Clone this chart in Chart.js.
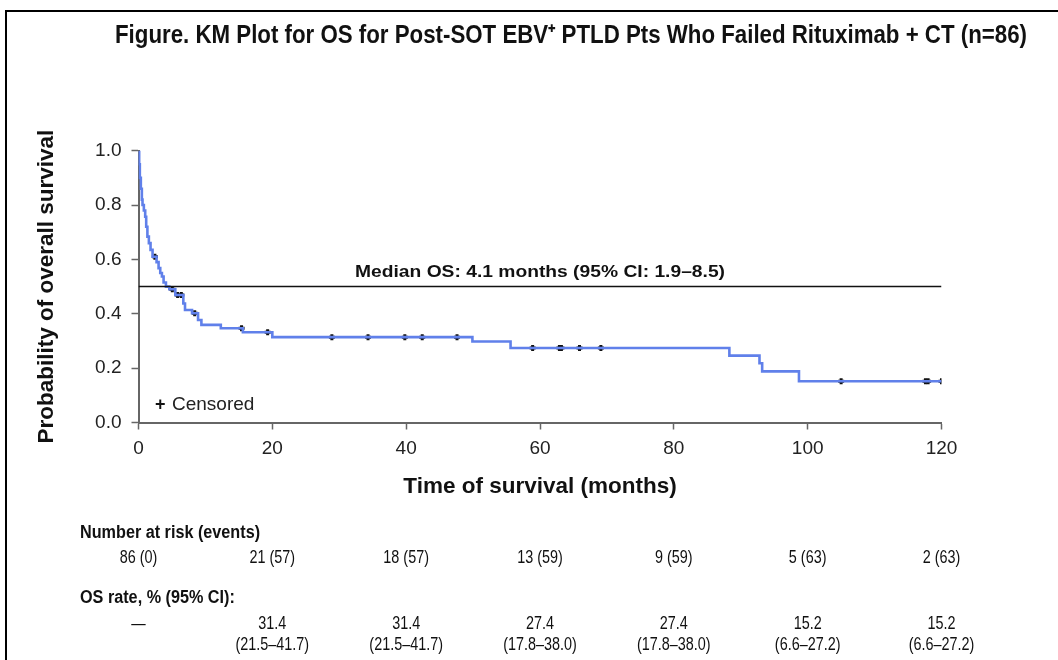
<!DOCTYPE html>
<html>
<head>
<meta charset="utf-8">
<script src="https://cdn.jsdelivr.net/npm/chart.js@4.4.1/dist/chart.umd.min.js"></script>
<style>
  html, body { margin: 0; padding: 0; background: #fff; }
  #wrap { width: 1058px; height: 660px; position: relative; }
</style>
</head>
<body>
<div id="wrap"><canvas id="km" width="1058" height="660"></canvas></div>
<script>
// Kaplan–Meier overall survival: time (months) where the estimate steps to the value
const kmTimes = [0, 0.1, 0.2, 0.35, 0.5, 0.6, 0.8, 1.0, 1.15, 1.33, 1.55, 1.8, 2.1, 2.7, 3.0, 3.25, 3.5, 3.75,
  4.1, 4.6, 5.5, 6.7, 6.95, 8.0, 8.9, 9.4, 12.3, 15.6, 20.0, 49.9, 55.6, 88.3, 92.8, 93.2, 98.7, 120];
const kmSurvival = [1.0, 0.95, 0.90, 0.86, 0.82, 0.80, 0.78, 0.757, 0.72, 0.684, 0.66, 0.635, 0.61, 0.59, 0.568, 0.55, 0.537, 0.515,
  0.50, 0.49, 0.469, 0.438, 0.414, 0.402, 0.377, 0.359, 0.347, 0.332, 0.314, 0.298, 0.274, 0.246, 0.218, 0.188, 0.152, 0.152];

// Censored observations
const censorTimes = [2.45, 5.05, 5.85, 6.4, 8.4, 15.4, 19.3, 28.9, 34.3, 39.8, 42.4, 47.6,
  58.9, 62.9, 63.2, 65.9, 69.1, 105, 117.6, 118.0, 120];
const censorSurvival = [0.61, 0.49, 0.469, 0.469, 0.402, 0.347, 0.332, 0.314, 0.314, 0.314, 0.314, 0.314,
  0.274, 0.274, 0.274, 0.274, 0.274, 0.152, 0.152, 0.152, 0.152];

// Median reference line
const medianSpan = [0, 120];
const medianLevel = 0.5;
const medianLabel = 'Median OS: 4.1 months (95% CI: 1.9–8.5)';
const medianLabelAt = 60;

// Axis ticks
const xTicks = [0, 20, 40, 60, 80, 100, 120];
const yTicks = [0.0, 0.2, 0.4, 0.6, 0.8, 1.0];

// Risk table
const tableTimes = [0, 20, 40, 60, 80, 100, 120];
const atRisk = ['86 (0)', '21 (57)', '18 (57)', '13 (59)', '9 (59)', '5 (63)', '2 (63)'];
const osRate = ['—', '31.4', '31.4', '27.4', '27.4', '15.2', '15.2'];
const osCI = ['', '(21.5–41.7)', '(21.5–41.7)', '(17.8–38.0)', '(17.8–38.0)', '(6.6–27.2)', '(6.6–27.2)'];

const titleText = 'Figure. KM Plot for OS for Post-SOT EBV\u207A PTLD Pts Who Failed Rituximab + CT (n=86)';

// Plot frame in canvas pixels
const AREA = { left: 138.5, right: 941.5, top: 150.7, bottom: 422.5 };
const W = 1058, H = 660;

const SANS = '"Liberation Sans", Arial, sans-serif';

// Draw text with a horizontal scale factor (condensed or widened lettering)
function scaledText(ctx, text, x, y, sx) {
  ctx.save();
  ctx.translate(x, y);
  ctx.scale(sx, 1);
  ctx.fillText(text, 0, 0);
  ctx.restore();
}
function fitText(ctx, text, x, y, width) {
  scaledText(ctx, text, x, y, width / ctx.measureText(text).width);
}

const decorations = {
  id: 'decorations',
  beforeDraw(chart) {
    const ctx = chart.ctx;
    ctx.save();
    ctx.fillStyle = '#fff';
    ctx.fillRect(0, 0, W, H);
    // outer frame
    ctx.strokeStyle = '#000';
    ctx.lineWidth = 2;
    ctx.beginPath();
    ctx.moveTo(6, H);
    ctx.lineTo(6, 11);
    ctx.lineTo(W, 11);
    ctx.stroke();
    ctx.restore();
  },
  afterDraw(chart) {
    const ctx = chart.ctx;
    const xs = chart.scales.x, ys = chart.scales.y;
    ctx.save();
    ctx.fillStyle = '#111';
    ctx.textBaseline = 'middle';
    ctx.textAlign = 'center';

    // title
    ctx.font = 'bold 25px ' + SANS;
    fitText(ctx, titleText, 571, 36, 912);

    // median annotation
    ctx.font = 'bold 17px ' + SANS;
    fitText(ctx, medianLabel, xs.getPixelForValue(medianLabelAt), ys.getPixelForValue(medianLevel) - 14, 370);

    // censor legend
    ctx.textAlign = 'left';
    ctx.font = 'bold 18px ' + SANS;
    ctx.fillText('+', 155, 405);
    ctx.font = '19px ' + SANS;
    ctx.fillStyle = '#222';
    ctx.fillText('Censored', 172, 405);

    // risk table
    ctx.fillStyle = '#111';
    ctx.font = 'bold 18px ' + SANS;
    scaledText(ctx, 'Number at risk (events)', 80, 533, 0.9);
    scaledText(ctx, 'OS rate, % (95% CI):', 80, 598, 0.9);
    ctx.textAlign = 'center';
    ctx.font = '18px ' + SANS;
    tableTimes.forEach((t, i) => {
      const x = xs.getPixelForValue(t);
      scaledText(ctx, atRisk[i], x, 558, 0.8);
      scaledText(ctx, osRate[i], x, 624, 0.8);
      if (osCI[i]) scaledText(ctx, osCI[i], x, 645, 0.8);
    });
    ctx.restore();
  }
};

const kmPoints = kmTimes.map((t, i) => ({ x: t, y: kmSurvival[i] }));
const censorPoints = censorTimes.map((t, i) => ({ x: t, y: censorSurvival[i] }));
const medianPoints = medianSpan.map(t => ({ x: t, y: medianLevel }));

new Chart(document.getElementById('km'), {
  type: 'scatter',
  data: {
    datasets: [
      {
        label: 'Median',
        data: medianPoints,
        showLine: true,
        borderColor: '#111',
        borderWidth: 1.5,
        pointRadius: 0
      },
      {
        label: 'OS',
        data: kmPoints,
        showLine: true,
        stepped: true,
        borderColor: '#6080ea',
        borderWidth: 2.6,
        pointRadius: 0
      },
      {
        label: 'Censored',
        data: censorPoints,
        showLine: false,
        pointStyle: 'cross',
        pointRadius: 3,
        pointBorderWidth: 3,
        borderColor: '#111',
        backgroundColor: '#111'
      }
    ]
  },
  options: {
    responsive: false,
    animation: false,
    events: [],
    layout: { padding: { left: 0, top: AREA.top, right: W - AREA.right, bottom: 0 } },
    plugins: { legend: { display: false }, tooltip: { enabled: false }, title: { display: false } },
    scales: {
      x: {
        type: 'linear',
        min: 0, max: 120,
        afterBuildTicks: s => { s.ticks = xTicks.map(v => ({ value: v })); },
        afterFit: s => { s.height = H - AREA.bottom; },
        ticks: { font: { family: SANS, size: 19 }, color: '#222', padding: 8 },
        grid: { drawOnChartArea: false, drawTicks: true, tickLength: 7, tickColor: '#666', tickWidth: 1.5 },
        border: { display: true, color: '#666', width: 2 },
        title: {
          display: true,
          text: 'Time of survival (months)',
          font: { family: SANS, size: 22.5, weight: 'bold' },
          color: '#111',
          padding: { top: 0, bottom: 159.5 }
        }
      },
      y: {
        type: 'linear',
        min: 0, max: 1,
        afterBuildTicks: s => { s.ticks = yTicks.map(v => ({ value: v })); },
        afterFit: s => { s.width = AREA.left; },
        ticks: { font: { family: SANS, size: 19 }, color: '#222', padding: 10, callback: v => v.toFixed(1) },
        grid: { drawOnChartArea: false, drawTicks: true, tickLength: 7, tickColor: '#666', tickWidth: 1.5 },
        border: { display: true, color: '#666', width: 2 },
        title: {
          display: true,
          text: 'Probability of overall survival',
          font: { family: SANS, size: 22.5, weight: 'bold' },
          color: '#111',
          padding: { top: 33.5, bottom: 0 }
        }
      }
    }
  },
  plugins: [decorations]
});
</script>
</body>
</html>
